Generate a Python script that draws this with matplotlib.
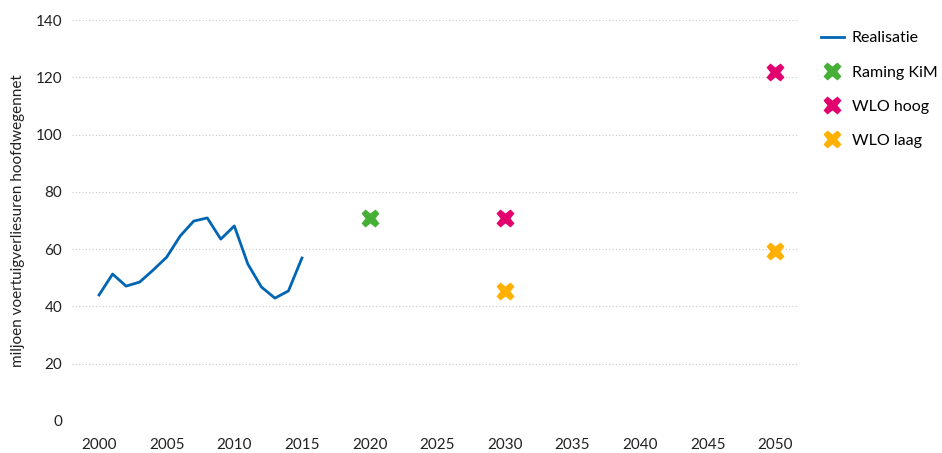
import matplotlib
matplotlib.use("Agg")
import matplotlib.pyplot as plt

plt.rcParams['font.family'] = ['Lato', 'DejaVu Sans']

years = list(range(2000, 2016))
realisatie = [44.0, 51.3, 47.1, 48.5, 52.7, 57.2, 64.6, 69.8, 70.9, 63.5, 68.1, 54.8, 46.8, 42.9, 45.4, 56.9]

kim_x = [2020]
kim_y = [70.9]
hoog_x = [2030, 2050]
hoog_y = [70.9, 121.8]
laag_x = [2030, 2050]
laag_y = [45.4, 59.3]

xticks = list(range(2000, 2051, 5))
yticks = list(range(0, 141, 20))

fig = plt.figure(figsize=(9.42, 4.53), dpi=100)
ax = fig.add_axes([72/942, 32/453, (797-72)/942, (421-20)/453])

ax.plot(years, realisatie, color='#0066b3', lw=2, label='Realisatie')
ax.plot(kim_x, kim_y, ls='none', marker='X', ms=13, color='#46b036', mec='none', label='Raming KiM')
ax.plot(hoog_x, hoog_y, ls='none', marker='X', ms=13, color='#e2006f', mec='none', label='WLO hoog')
ax.plot(laag_x, laag_y, ls='none', marker='X', ms=13, color='#ffb000', mec='none', label='WLO laag')

ax.set_xlim(1998, 2051.6)
ax.set_ylim(0, 140)
ax.set_xticks(xticks)
ax.set_yticks(yticks)
ax.grid(axis='y', color='#c8c8c8', ls=(0, (1, 2)), lw=0.8)
ax.set_axisbelow(True)
for s in ax.spines.values():
    s.set_visible(False)
ax.tick_params(length=0, labelsize=11, colors='#222222')
ax.tick_params(axis='y', pad=7)
ax.tick_params(axis='x', pad=12)
ax.set_ylabel('miljoen voertuigverliesuren hoofdwegennet', fontsize=11, color='#222222', labelpad=8)

ax.legend(loc='upper left', bbox_to_anchor=(1.018, 1.0), frameon=False, fontsize=11.5,
          handlelength=1.4, labelspacing=1.25, handletextpad=0.5, borderaxespad=0.3)

fig.savefig('out.png', dpi=100)
